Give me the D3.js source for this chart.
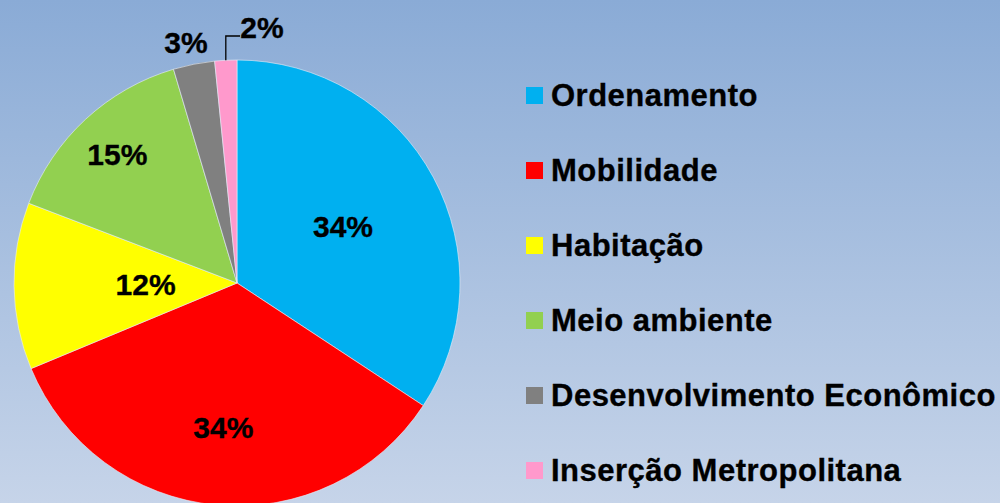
<!doctype html>
<html>
  <head>
    <meta charset="utf-8">
    <script src="https://cdn.jsdelivr.net/npm/d3@7"></script>
    <style>
      body { margin: 0; }
      svg { display: block; font-family: "Liberation Sans", Arial, sans-serif; font-weight: bold; }
      text { stroke: #000; stroke-width: 0.35px; }
    </style>
  </head>
  <body>
    <svg id="chart" width="1000" height="503"></svg>
    <script>
      // data
      var categories = ["Ordenamento", "Mobilidade", "Habitação", "Meio ambiente", "Desenvolvimento Econômico", "Inserção Metropolitana"];
      var values = [34.3, 34.5, 12.1, 14.6, 3.0, 1.6];
      var labels = ["34%", "34%", "12%", "15%", "3%", "2%"];
      var colors = ["#00b0f0", "#ff0000", "#ffff00", "#92d050", "#808080", "#ff99cc"];

      var svg = d3.select("#chart"),
        width = +svg.attr("width"),
        height = +svg.attr("height");

      // background gradient
      var grad = svg.append("defs").append("linearGradient")
        .attr("id", "bg").attr("x1", 0).attr("y1", 0).attr("x2", 0).attr("y2", 1);
      grad.append("stop").attr("offset", "0%").attr("stop-color", "#8aabd6");
      grad.append("stop").attr("offset", "100%").attr("stop-color", "#c6d4e9");
      svg.append("rect").attr("width", width).attr("height", height).attr("fill", "url(#bg)");

      var cx = 237, cy = 283, r = 223;

      var pie = d3.pie().sort(null).value(function(d) { return d; });
      var arcs = pie(values);
      var arc = d3.arc().innerRadius(0).outerRadius(r);

      var g = svg.append("g").attr("transform", "translate(" + cx + "," + cy + ")");

      g.selectAll("path")
        .data(arcs)
        .enter()
        .append("path")
        .attr("d", arc)
        .attr("fill", function(d, i) { return colors[i]; })
        .attr("stroke", "#e8eef8")
        .attr("stroke-width", 0.6);

      // label distance from centre, as a share of the radius
      var labelPos = [0.54, 0.65, 0.41, 0.79];

      g.selectAll("text.lbl")
        .data(arcs)
        .enter()
        .append("text")
        .attr("class", "lbl")
        .attr("transform", function(d, i) {
          var p;
          if (i < 4) {
            var k = r * labelPos[i];
            p = d3.arc().innerRadius(k).outerRadius(k).centroid(d);
          }
          else if (i == 4) p = [-51, -241];
          else p = [25, -256];
          return "translate(" + p + ")";
        })
        .attr("text-anchor", "middle")
        .attr("dy", "0.36em")
        .attr("font-size", 30)
        .attr("fill", "#000")
        .text(function(d, i) { return labels[i]; });

      // leader line for the smallest slice
      var pinkMid = (arcs[5].startAngle + arcs[5].endAngle) / 2;
      var lx = Math.sin(pinkMid) * r, ly = -Math.cos(pinkMid) * r;
      g.append("path")
        .attr("d", "M" + lx + "," + ly + "V" + (-247) + "H" + 3)
        .attr("fill", "none")
        .attr("stroke", "#000")
        .attr("stroke-width", 1.3);

      // legend
      var leg = svg.append("g").attr("transform", "translate(526,0)");
      var row = leg.selectAll("g")
        .data(categories)
        .enter()
        .append("g")
        .attr("transform", function(d, i) { return "translate(0," + (106 + i * 75) + ")"; });
      row.append("rect")
        .attr("x", 0).attr("y", -19)
        .attr("width", 17).attr("height", 17)
        .attr("fill", function(d, i) { return colors[i]; });
      row.append("text")
        .attr("x", 25)
        .attr("font-size", 31)
        .attr("letter-spacing", 0.5)
        .attr("fill", "#000")
        .text(function(d) { return d; });
    </script>
  </body>
</html>
